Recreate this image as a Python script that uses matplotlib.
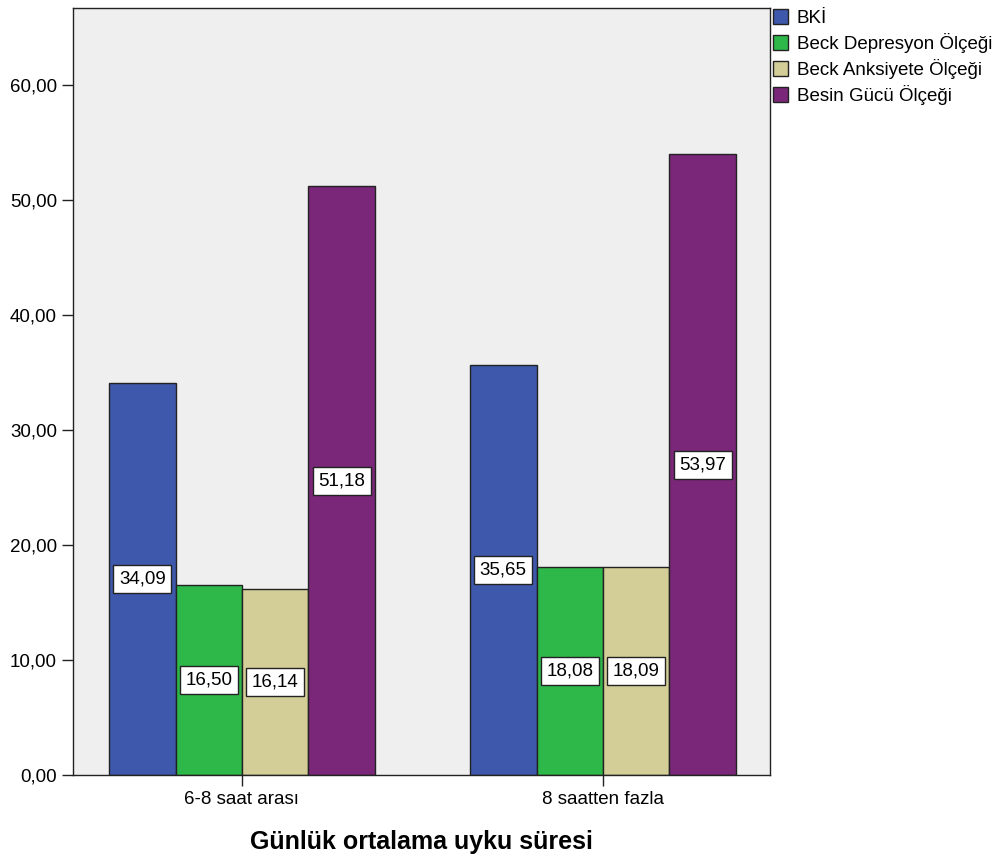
import matplotlib

matplotlib.use("Agg")
import matplotlib.pyplot as plt
from matplotlib.patches import Patch
import numpy as np

groups = ["6-8 saat arası", "8 saatten fazla"]
series = ["BKİ", "Beck Depresyon Ölçeği", "Beck Anksiyete Ölçeği", "Besin Gücü Ölçeği"]
bki = [34.09, 35.65]
depresyon = [16.50, 18.08]
anksiyete = [16.14, 18.09]
besin = [51.18, 53.97]
yticks = [0, 10, 20, 30, 40, 50, 60]

colors = ["#3e58ac", "#2fb84a", "#d3ce97", "#7b2779"]

plt.rcParams["font.family"] = ["Liberation Sans", "DejaVu Sans"]

fig = plt.figure(figsize=(10.08, 8.59), dpi=100)
ax = fig.add_axes([0.0724, 0.0978, 0.6916, 0.8929])
ax.set_facecolor("#efefef")

x = np.arange(len(groups))
w = 0.184
values = [bki, depresyon, anksiyete, besin]
for i, (vals, col) in enumerate(zip(values, colors)):
    xs = x + (i - 1.5) * w
    ax.bar(xs, vals, width=w, color=col, edgecolor="#222222", linewidth=1.0, zorder=2)
    for xx, v in zip(xs, vals):
        ax.text(xx, v / 2, f"{v:.2f}".replace(".", ","), ha="center", va="center",
                fontsize=13.5, zorder=3,
                bbox=dict(boxstyle="square,pad=0.3", fc="white", ec="#222222", lw=1.0))

ax.set_xlim(-0.468, 1.463)
ax.set_ylim(0, 66.7)
ax.set_yticks(yticks)
ax.set_yticklabels([f"{t:.2f}".replace(".", ",") for t in yticks], fontsize=13.5)
ax.set_xticks(x)
ax.set_xticklabels(groups, fontsize=13.5)
ax.tick_params(axis="both", direction="out", length=8, width=1.0, color="#222222")
for s in ax.spines.values():
    s.set_color("#222222")
    s.set_linewidth(1.0)
ax.set_xlabel("Günlük ortalama uyku süresi", fontsize=18, fontweight="bold", labelpad=16)

handles = [Patch(facecolor=c, edgecolor="#222222", label=l) for c, l in zip(colors, series)]
fig.legend(handles=handles, loc="upper left", bbox_to_anchor=(0.767, 0.989),
           frameon=False, fontsize=13.5, borderpad=0, borderaxespad=0,
           handlelength=0.8, handleheight=0.8, handletextpad=0.45, labelspacing=0.32)

fig.savefig("out.png", dpi=100, facecolor="white")
